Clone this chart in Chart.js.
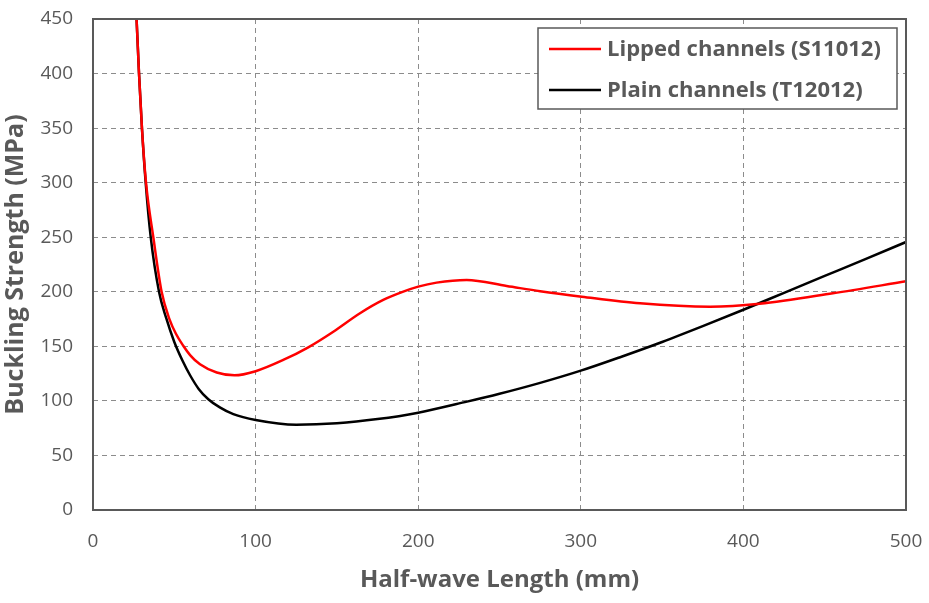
<!DOCTYPE html>
<html>
<head>
<meta charset="utf-8">
<script src="https://cdn.jsdelivr.net/npm/chart.js@4.4.1/dist/chart.umd.min.js"></script>
<style>
    html, body { margin: 0; padding: 0; background: #fff; }
    #wrap { width: 929px; height: 603px; position: relative; }
</style>
</head>
<body>
<div id="wrap"><canvas id="buckling"></canvas></div>
<script>
// half-wave length (mm) and buckling strength (MPa)
const Lipped_Length = [25.5, 26.8, 28.3, 30.1, 32.6, 37.1, 42.2, 47, 51, 55.5, 59.7, 65.8, 76.1, 87, 100, 117, 132.4, 147.8, 164.2, 178.5, 190.8, 200, 211.3, 229.8, 254.4, 275, 300.6, 336.4, 379.5, 410, 455, 500];
const Lipped_Strength = [495, 450, 400, 350, 300, 250, 200, 175, 161.5, 150.5, 142, 133.5, 126, 123.4, 127.2, 137.5, 149.1, 163.4, 180.3, 192.5, 200.1, 204.7, 208.4, 210.8, 205.3, 200.5, 195.5, 189.4, 186.3, 189, 198.6, 209.6];
const Plain_Length = [25.5, 26.8, 28.3, 30.1, 32.4, 35.5, 40.6, 45, 50, 55, 59.7, 65, 70.9, 78, 86.3, 100, 125, 150, 175, 200, 230, 250, 275, 300, 325, 350, 375, 400, 425, 450, 475, 500];
const Plain_Strength = [495, 450, 400, 350, 300, 250, 200, 176, 154, 137, 123.5, 111, 101.5, 94, 87.8, 82.5, 78.2, 79.5, 83.3, 89.2, 99.3, 106.5, 116.5, 127.7, 140.5, 154, 168.5, 183.5, 199, 214.5, 230, 245.6];
const Series_Names = ['Lipped channels (S11012)', 'Plain channels (T12012)'];
const Series_Colors = ['#ff0000', '#000000'];

const toPoints = (xs, ys) => xs.map((x, i) => ({ x: x, y: ys[i] }));
const GREY = '#595959';

// frame round the plot area + legend box in the top right corner
const framePlugin = {
    id: 'frame',
    afterDraw(chart) {
        const { ctx, chartArea } = chart;
        ctx.save();
        ctx.strokeStyle = GREY;
        ctx.lineWidth = 2;
        ctx.strokeRect(chartArea.left, chartArea.top, chartArea.right - chartArea.left, chartArea.bottom - chartArea.top);

        const boxLeft = 538, boxTop = 28, boxW = 359, boxH = 81;
        ctx.fillStyle = '#fff';
        ctx.fillRect(boxLeft, boxTop, boxW, boxH);
        ctx.lineWidth = 1.5;
        ctx.strokeRect(boxLeft, boxTop, boxW, boxH);
        const rows = [49, 90];
        chart.data.datasets.forEach((ds, i) => {
            ctx.strokeStyle = ds.borderColor;
            ctx.lineWidth = 2.5;
            ctx.beginPath();
            ctx.moveTo(549, rows[i]);
            ctx.lineTo(601, rows[i]);
            ctx.stroke();
            ctx.fillStyle = GREY;
            ctx.font = 'bold 22px "Open Sans"';
            ctx.textBaseline = 'middle';
            ctx.textAlign = 'left';
            ctx.fillText(ds.label, 607, rows[i] + 1);
        });
        ctx.restore();
    }
};

function buckling_chart() {
    const container = document.querySelector('#buckling');
    return new Chart(container, {
        type: 'line',
        data: {
            datasets: [{
                label: Series_Names[0],
                data: toPoints(Lipped_Length, Lipped_Strength),
                borderColor: Series_Colors[0],
                borderWidth: 2.5,
                pointRadius: 0,
                cubicInterpolationMode: 'monotone'
            }, {
                label: Series_Names[1],
                data: toPoints(Plain_Length, Plain_Strength),
                borderColor: Series_Colors[1],
                borderWidth: 2.5,
                pointRadius: 0,
                cubicInterpolationMode: 'monotone'
            }]
        },
        options: {
            responsive: true,
            maintainAspectRatio: false,
            animation: false,
            layout: { padding: { top: 19, right: 23, left: 0, bottom: 0 } },
            plugins: {
                legend: { display: false },
                tooltip: { enabled: false }
            },
            scales: {
                x: {
                    type: 'linear',
                    min: 0, max: 500,
                    afterFit: (scale) => { scale.height = 93; scale.paddingLeft = 0; scale.paddingRight = 0; },
                    ticks: { stepSize: 100, color: GREY, padding: 20, font: { family: 'Open Sans', size: 19 } },
                    grid: { color: '#8c8c8c', lineWidth: 1, drawTicks: false },
                    border: { display: false, dash: [5, 4] },
                    title: { display: true, text: 'Half-wave Length (mm)', color: GREY, padding: { bottom: 8 }, font: { family: 'Open Sans', size: 24, weight: 'bold' } }
                },
                y: {
                    min: 0, max: 450,
                    afterFit: (scale) => { scale.width = 93; scale.paddingTop = 0; scale.paddingBottom = 0; },
                    ticks: { stepSize: 50, color: GREY, padding: 20, font: { family: 'Open Sans', size: 19 } },
                    grid: { color: '#8c8c8c', lineWidth: 1, drawTicks: false },
                    border: { display: false, dash: [5, 4] },
                    title: { display: true, text: 'Buckling Strength (MPa)', color: GREY, padding: { top: 1 }, font: { family: 'Open Sans', size: 25, weight: 'bold' } }
                }
            }
        },
        plugins: [framePlugin]
    });
}
buckling_chart();
</script>
</body>
</html>
